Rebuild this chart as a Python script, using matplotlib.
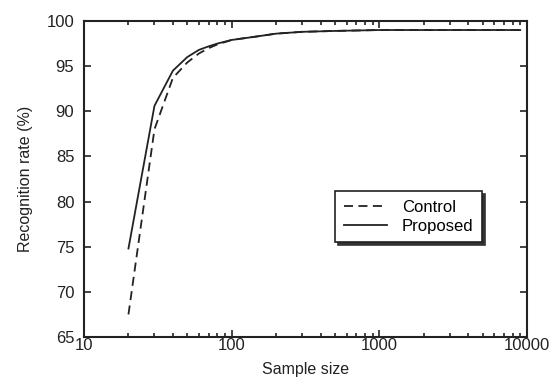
import matplotlib
matplotlib.use("Agg")
import matplotlib.pyplot as plt
from matplotlib.ticker import LogLocator, NullFormatter

plt.rcParams['font.family'] = ['Liberation Sans', 'DejaVu Sans']

sample_size = [20, 30, 40, 50, 60, 70, 80, 100, 150, 200, 300, 500, 1000, 2000, 5000, 9000]
control = [67.5, 88.0, 93.7, 95.4, 96.4, 97.0, 97.4, 97.9, 98.3, 98.6, 98.8, 98.9, 99.0, 99.0, 99.0, 99.0]
proposed = [74.8, 90.6, 94.5, 96.0, 96.8, 97.2, 97.5, 97.9, 98.3, 98.6, 98.8, 98.9, 99.0, 99.0, 99.0, 99.0]
xticks = [10, 100, 1000, 10000]
xticklabels = ['10', '100', '1000', '10000']
yticks = [65, 70, 75, 80, 85, 90, 95, 100]

fig = plt.figure(figsize=(5.53, 3.84), dpi=100)
ax = fig.add_axes([84/553, 1-337/384, (527-84)/553, (337-21)/384])

ax.plot(sample_size, control, color='#222222', lw=1.3, ls=(0, (5, 3)), label='Control')
ax.plot(sample_size, proposed, color='#222222', lw=1.3, ls='-', label='Proposed')

ax.set_xscale('log')
ax.set_xlim(10, 10000)
ax.set_ylim(65, 100)
ax.set_xticks(xticks)
ax.set_xticklabels(xticklabels)
ax.xaxis.set_minor_locator(LogLocator(base=10, subs=range(2, 10)))
ax.xaxis.set_minor_formatter(NullFormatter())
ax.set_yticks(yticks)

ax.tick_params(which='both', direction='in', top=True, right=True, labelsize=12, colors='#222222', width=1.2)
ax.tick_params(which='major', length=5)
ax.tick_params(which='minor', length=3)
ax.tick_params(axis='x', pad=1)
ax.tick_params(axis='y', pad=7)
for s in ax.spines.values():
    s.set_linewidth(1.5)
    s.set_color('#222222')

ax.set_xlabel('Sample size', fontsize=11.5, color='#222222', labelpad=6)
ax.set_ylabel('Recognition rate (%)', fontsize=11.5, color='#222222', labelpad=10)

leg = ax.legend(loc='upper left', bbox_to_anchor=((327-84)/443, (337-183)/316), fontsize=12,
                frameon=True, fancybox=False, shadow={'color': '#333333', 'alpha': 1},
                edgecolor='#222222', handlelength=2.6, borderpad=0.5, labelspacing=0.25,
                handletextpad=0.9)
leg.get_frame().set_linewidth(1.2)

fig.savefig('out.png', dpi=100)
